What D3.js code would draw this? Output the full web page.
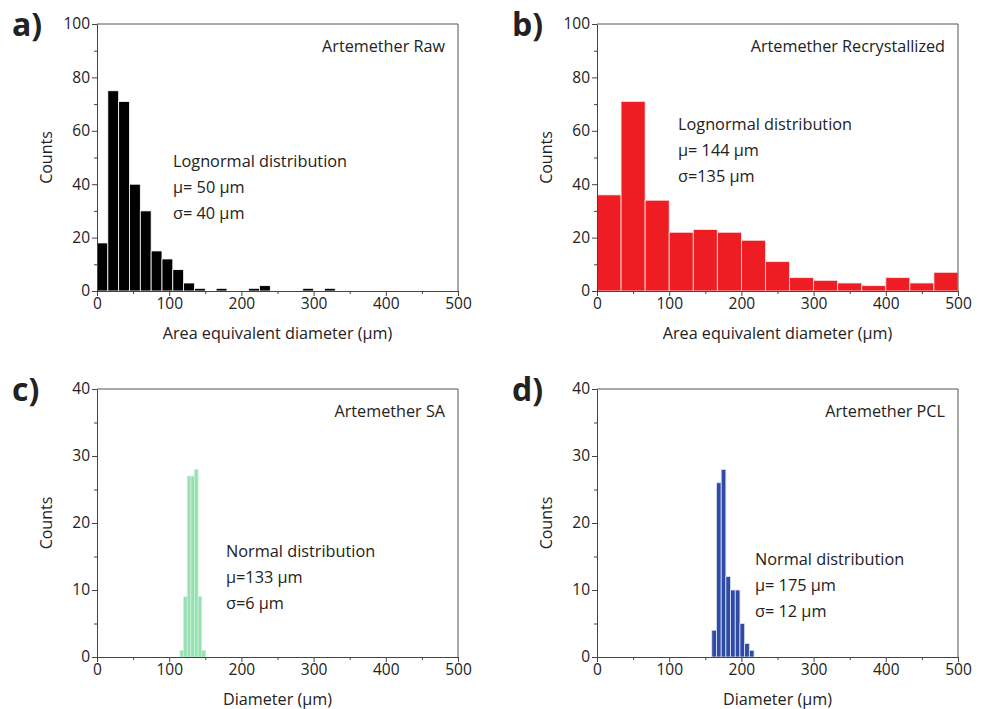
<!DOCTYPE html>
<html>
<head>
<meta charset="utf-8">
<script src="https://cdn.jsdelivr.net/npm/d3@7/dist/d3.min.js"></script>
<style>
  body { margin: 0; background: #fff; }
  text { font-family: "Open Sans", "Noto Sans", sans-serif; fill: #222; }
  .axis text { font-size: 15.5px; fill: #222; }
  .axis path, .axis line { stroke: #444; }
</style>
</head>
<body>
<svg id="chart" width="988" height="709"></svg>
<script>
// histogram counts
const rawStart = 0, rawBin = 15;
const rawCounts = [18, 75, 71, 40, 30, 15, 12, 8, 3, 1, 0, 1, 0, 0, 1, 2, 0, 0, 0, 1, 0, 1];

const recStart = 0, recBin = 500 / 15;
const recCounts = [36, 71, 34, 22, 23, 22, 19, 11, 5, 4, 3, 2, 5, 3, 7];

const saStart = 115, saBin = 5;
const saCounts = [1, 9, 27, 27, 28, 9, 1];

const pclStart = 159, pclBin = 6.5;
const pclCounts = [4, 26, 28, 12, 10, 10, 5, 2, 1];

const xTicks = [0, 100, 200, 300, 400, 500];
const yTicksTop = [0, 20, 40, 60, 80, 100];
const yTicksBottom = [0, 10, 20, 30, 40];

const svg = d3.select("#chart");

function drawPanel(p) {
    const w = p.right - p.left, h = p.bottom - p.top;
    const g = svg.append("g").attr("transform", `translate(${p.left},${p.top})`);

    const x = d3.scaleLinear().domain([0, 500]).range([0, w]);
    const y = d3.scaleLinear().domain([0, p.yMax]).range([h, 0]);

    const bins = p.counts.map((c, i) => ({ x0: p.start + i * p.bin, x1: p.start + (i + 1) * p.bin, n: c }))
        .filter(d => d.n > 0);

    g.selectAll("rect.bar").data(bins).enter().append("rect")
        .attr("class", "bar")
        .attr("x", d => x(d.x0))
        .attr("width", d => x(d.x1) - x(d.x0))
        .attr("y", d => y(d.n))
        .attr("height", d => y(0) - y(d.n))
        .attr("fill", p.color)
        .attr("stroke", p.edge)
        .attr("stroke-width", 0.8);

    // frame
    g.append("path")
        .attr("d", `M0,0H${w}V${h}`)
        .attr("fill", "none").attr("stroke", "#555").attr("stroke-width", 1);

    // minor ticks
    const xMinor = d3.range(50, 500, 100);
    g.append("g").attr("class", "axis").attr("transform", `translate(0,${h})`)
        .call(d3.axisBottom(x).tickValues(xMinor).tickSize(3).tickFormat(""))
        .call(a => a.select(".domain").remove());
    const yMinor = d3.range(p.yMinorStep, p.yMax, p.yMinorStep * 2);
    g.append("g").attr("class", "axis")
        .call(d3.axisLeft(y).tickValues(yMinor).tickSize(3).tickFormat(""))
        .call(a => a.select(".domain").remove());

    g.append("g").attr("class", "axis").attr("transform", `translate(0,${h})`)
        .call(d3.axisBottom(x).tickValues(xTicks).tickSize(5).tickSizeOuter(0).tickPadding(2));
    g.append("g").attr("class", "axis")
        .call(d3.axisLeft(y).tickValues(p.yTicks).tickSize(5).tickSizeOuter(0).tickPadding(2));

    // labels
    g.append("text").attr("x", w / 2).attr("y", h + 48)
        .attr("text-anchor", "middle").style("font-size", "16.2px").text(p.xTitle);
    g.append("text").attr("transform", `translate(${-45},${h / 2}) rotate(-90)`)
        .attr("text-anchor", "middle").style("font-size", "16px").text("Counts");

    g.append("text").attr("x", w - 13).attr("y", 28)
        .attr("text-anchor", "end").style("font-size", "16.2px").text(p.title);

    p.notes.forEach((t, i) => {
        g.append("text").attr("x", p.noteX).attr("y", p.noteY + i * 26)
            .style("font-size", "16.3px").text(t);
    });

    svg.append("text").attr("x", p.left - 85).attr("y", p.top + 12)
        .style("font-size", "32px").style("font-weight", "bold").attr("fill", "#000")
        .text(p.letter);
}

drawPanel({
    letter: "a)", left: 97, right: 458, top: 24, bottom: 291,
    counts: rawCounts, start: rawStart, bin: rawBin, color: "#000", edge: "#fff",
    yMax: 100, yTicks: yTicksTop, yMinorStep: 10,
    xTitle: "Area equivalent diameter (\u03bcm)", title: "Artemether Raw",
    notes: ["Lognormal distribution", "\u03bc= 50 \u03bcm", "\u03c3= 40 \u03bcm"], noteX: 76, noteY: 143
});
drawPanel({
    letter: "b)", left: 597, right: 958, top: 24, bottom: 291,
    counts: recCounts, start: recStart, bin: recBin, color: "#ee1d23", edge: "#fde8e8",
    yMax: 100, yTicks: yTicksTop, yMinorStep: 10,
    xTitle: "Area equivalent diameter (\u03bcm)", title: "Artemether Recrystallized",
    notes: ["Lognormal distribution", "\u03bc= 144 \u03bcm", "\u03c3=135 \u03bcm"], noteX: 81, noteY: 106
});
drawPanel({
    letter: "c)", left: 97, right: 458, top: 389, bottom: 657,
    counts: saCounts, start: saStart, bin: saBin, color: "#97e0b2", edge: "#c8f0d6",
    yMax: 40, yTicks: yTicksBottom, yMinorStep: 5,
    xTitle: "Diameter (\u03bcm)", title: "Artemether SA",
    notes: ["Normal distribution", "\u03bc=133 \u03bcm", "\u03c3=6 \u03bcm"], noteX: 129, noteY: 168
});
drawPanel({
    letter: "d)", left: 597, right: 958, top: 389, bottom: 657,
    counts: pclCounts, start: pclStart, bin: pclBin, color: "#2f4ba6", edge: "#dfe4f4",
    yMax: 40, yTicks: yTicksBottom, yMinorStep: 5,
    xTitle: "Diameter (\u03bcm)", title: "Artemether PCL",
    notes: ["Normal distribution", "\u03bc= 175 \u03bcm", "\u03c3= 12 \u03bcm"], noteX: 158, noteY: 176
});
</script>
</body>
</html>
